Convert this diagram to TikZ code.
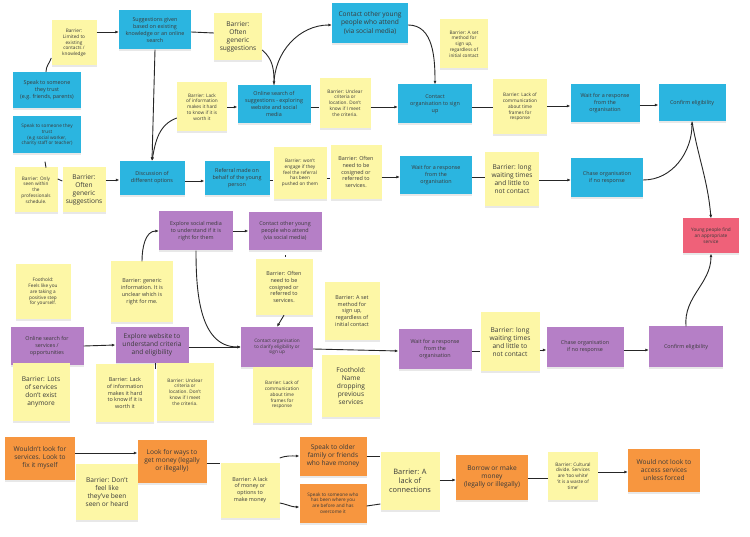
\documentclass[tikz,border=0pt]{standalone}
\usepackage{fontspec}
\setmainfont{Open Sans}
\usetikzlibrary{arrows.meta,shadows}
\definecolor{cblue}{HTML}{2BB5E0}
\definecolor{cyel}{HTML}{FDF7A6}
\definecolor{cpur}{HTML}{B57FC6}
\definecolor{cora}{HTML}{F7963F}
\definecolor{cred}{HTML}{EF6179}
\definecolor{ctxt}{HTML}{3A3A3A}
\newcommand{\fa}{\fontsize{4.7}{5.8}\selectfont}
\newcommand{\fb}{\fontsize{5.4}{6.9}\selectfont}
\newcommand{\fc}{\fontsize{6.6}{8.2}\selectfont}
\newcommand{\fd}{\fontsize{7.4}{9.2}\selectfont}
\tikzset{
 note/.style={rectangle,inner sep=1pt,align=center,text=ctxt,
   drop shadow={opacity=0.18,shadow xshift=0pt,shadow yshift=-2pt}},
 wh/.style 2 args={minimum width=#1pt,minimum height=#2pt},
 blue/.style={note,fill=cblue},
 yel/.style={note,fill=cyel},
 pur/.style={note,fill=cpur},
 ora/.style={note,fill=cora},
 red/.style={note,fill=cred},
 ar/.style={-{Latex[length=3.5pt,width=3pt]},line width=0.9pt,black!85},
 ln/.style={line width=0.9pt,black!85},
}
\begin{document}
\begin{tikzpicture}[x=1pt,y=-1pt]
\useasboundingbox[fill=white] (0,0) rectangle (750,537);
% ---- top blue section
\node[blue,wh={72}{39},font=\fb] (sug) at (155,30) {Suggestions given\\based on existing\\knowledge or an online\\search};
\node[yel,wh={45}{45},font=\fa] (lim) at (74,43) {Barrier:\\Limited to\\existing\\contacts /\\knowledge};
\node[blue,wh={68}{36},font=\fb] (sp1) at (47,90) {Speak to someone\\they trust\\(e.g. friends, parents)};
\node[blue,wh={68}{37},font=\fa] (sp2) at (47,135) {Speak to someone they\\trust\\(e.g social worker,\\charity staff or teacher)};
\node[yel,wh={43}{45},font=\fa] (onl) at (36,190) {Barrier: Only\\seen within\\the\\professionals\\schedule.};
\node[yel,wh={43}{45},font=\fc] (gen2) at (84,190) {Barrier:\\Often\\generic\\suggestions};
\node[blue,wh={65}{34},font=\fb] (dis) at (152,178) {Discussion of\\different options};
\node[yel,wh={48}{47},font=\fc] (gen1) at (238,37) {Barrier:\\Often\\generic\\suggestions};
\node[yel,wh={50}{49},font=\fa] (lack1) at (202,107) {Barrier: Lack\\of information\\makes it hard\\to know if it is\\worth it};
\node[blue,wh={73}{38},font=\fb] (os) at (274,104) {Online search of\\suggestions - exploring\\website and social\\media};
\node[yel,wh={51}{50},font=\fa] (unc1) at (345,103) {Barrier: Unclear\\criteria or\\location. Don't\\know if I meet\\the criteria.};
\node[blue,wh={65}{34},font=\fb] (ref) at (237,178) {Referral made on\\behalf of the young\\person};
\node[yel,wh={53}{52},font=\fa] (eng) at (300,173) {Barrier: won't\\engage if they\\feel the referral\\has been\\pushed on them};
\node[yel,wh={51}{54},font=\fb] (cos1) at (356,172) {Barrier: Often\\need to be\\cosigned or\\referred to\\services.};
\node[blue,wh={76}{40},font=\fc] (cyp1) at (370,23) {Contact other young\\people who attend\\(via social media)};
\node[yel,wh={48}{49},font=\fa] (set1) at (464,44) {Barrier: A set\\method for\\sign up,\\regardless of\\initial contact};
\node[blue,wh={74}{39},font=\fb] (co1) at (435,104) {Contact\\organisation to sign\\up};
\node[yel,wh={54}{55},font=\fa] (com1) at (520,107) {Barrier: Lack of\\communication\\about time\\frames for\\response};
\node[blue,wh={69}{38},font=\fb] (w1) at (605,103) {Wait for a response\\from the\\organisation};
\node[blue,wh={67}{37},font=\fb] (ce1) at (692,103) {Confirm eligibility};
\node[blue,wh={72}{38},font=\fb] (w2) at (436,175) {Wait for a response\\from the\\organisation};
\node[yel,wh={54}{54},font=\fc] (lw1) at (512,179) {Barrier: long\\waiting times\\and little to\\not contact};
\node[blue,wh={72}{39},font=\fb] (ch1) at (607,178) {Chase organisation\\if no response};
\node[red,wh={56}{35},font=\fa] (yp) at (711,236) {Young people find\\an appropriate\\service};
% ---- purple section
\node[pur,wh={74}{39},font=\fb] (esm) at (196,231) {Explore social media\\to understand if it is\\right for them};
\node[pur,wh={73}{38},font=\fb] (cyp2) at (285,231) {Contact other young\\people who attend\\(via social media)};
\node[yel,wh={55}{55},font=\fa] (foot1) at (43,292) {Foothold:\\Feels like you\\are taking a\\positive step\\for yourself.};
\node[yel,wh={62}{61},font=\fb] (gi) at (142,292) {Barrier: generic\\information. It is\\unclear which is\\right for me.};
\node[yel,wh={57}{56},font=\fb] (cos2) at (284,287) {Barrier: Often\\need to be\\cosigned or\\referred to\\services.};
\node[yel,wh={55}{58},font=\fb] (set2) at (352,311) {Barrier: A set\\method for\\sign up,\\regardless of\\initial contact};
\node[pur,wh={73}{38},font=\fb] (os2) at (47,346) {Online search for\\services /\\opportunities};
\node[pur,wh={73}{36},font=\fc] (ew) at (152,345) {Explore website to\\understand criteria\\and eligibility};
\node[pur,wh={72}{40},font=\fa] (co2) at (277,347) {Contact organisation\\to clarify eligibility or\\sign up};
\node[yel,wh={57}{58},font=\fc] (lots) at (41,392) {Barrier: Lots\\of services\\don't exist\\anymore};
\node[yel,wh={58}{58},font=\fb] (lack2) at (125,393) {Barrier: Lack\\of information\\makes it hard\\to know if it is\\worth it};
\node[yel,wh={57}{57},font=\fa] (unc2) at (185,392) {Barrier: Unclear\\criteria or\\location. Don't\\know if I meet\\the criteria.};
\node[yel,wh={59}{56},font=\fa] (com2) at (282,395) {Barrier: Lack of\\communication\\about time\\frames for\\response};
\node[yel,wh={58}{62},font=\fc] (foot2) at (351,386) {Foothold:\\Name\\dropping\\previous\\services};
\node[pur,wh={73}{40},font=\fb] (w3) at (435,349) {Wait for a response\\from the\\organisation};
\node[yel,wh={59}{59},font=\fc] (lw2) at (510,342) {Barrier: long\\waiting times\\and little to\\not contact};
\node[pur,wh={77}{40},font=\fb] (ch2) at (585,347) {Chase organisation\\if no response};
\node[pur,wh={74}{41},font=\fb] (ce2) at (686,347) {Confirm eligibility};
% ---- orange section
\node[ora,wh={70}{43},font=\fc] (wl) at (40,458) {Wouldn't look for\\services. Look to\\fix it myself};
\node[yel,wh={62}{56},font=\fc] (df) at (107,492) {Barrier: Don't\\feel like\\they've been\\seen or heard};
\node[ora,wh={69}{43},font=\fc] (lf) at (172,461) {Look for ways to\\get money (legally\\or illegally)};
\node[yel,wh={59}{55},font=\fb] (lm) at (250,490) {Barrier: A lack\\of money or\\options to\\make money};
\node[ora,wh={67}{39},font=\fc] (so) at (333,456) {Speak to older\\family or friends\\who have money};
\node[ora,wh={67}{39},font=\fa] (ss) at (333,503) {Speak to someone who\\has been where you\\are before and has\\overcome it};
\node[yel,wh={59}{58},font=\fd] (lc) at (410,481) {Barrier: A\\lack of\\connections};
\node[ora,wh={72}{45},font=\fc] (bm) at (492,477) {Borrow or make\\money\\(legally or illegally)};
\node[yel,wh={50}{48},font=\fa] (cd) at (573,476) {Barrier: Cultural\\divide. Services\\are `too white'\\`it is a waste of\\time'};
\node[ora,wh={72}{43},font=\fc] (wn) at (664,470) {Would not look to\\access services\\unless forced};
% ---- connectors top
\draw[ln] (sp1.north) ++(-1,0) to[out=90,in=-110] (lim.west|-0,58);
\draw[ar] (lim.east|-0,32) -- (sug.west|-0,32);
\draw[ln] (sug.east|-0,32) -- (gen1.west|-0,33);
\draw[ar] (gen1.east|-0,50) to[out=-40,in=90] (os.north);
\draw[ar] (os.north) to[out=90,in=180] (cyp1.west|-0,25);
\draw[ar] (sug.south) -- (dis.north);
\draw[ar] (lack1.west|-0,118) to[out=200,in=80] (dis.north);
\draw[ar] (lack1.east|-0,107) -- (os.west|-0,107);
\draw[ln] (os.east|-0,107) -- (unc1.west|-0,107);
\draw[ar] (unc1.east|-0,107) -- (co1.west|-0,107);
\draw[ar] (cyp1.east|-0,25) to[out=0,in=90] (co1.north);
\draw[ln] (co1.east|-0,107) -- (com1.west|-0,107);
\draw[ar] (com1.east|-0,106) -- (w1.west|-0,106);
\draw[ar] (w1.east|-0,105) -- (ce1.west|-0,105);
\draw[ln] (sp2.south) ++(-2,8) -- ++(1,6);
\draw[ln] (onl.east|-0,179) -- (gen2.west|-0,181);
\draw[ar] (gen2.east|-0,180) -- (dis.west|-0,180);
\draw[ar] (dis.east|-0,181) -- (ref.west|-0,181);
\draw[ln] (ref.east|-0,180) -- (eng.west|-0,180);
\draw[ln] (eng.east|-0,178) -- (cos1.west|-0,178);
\draw[ar] (cos1.east|-0,177) -- (w2.west|-0,177);
\draw[ln] (w2.east|-0,177) -- (lw1.west|-0,177);
\draw[ar] (lw1.east|-0,180) -- (ch1.west|-0,180);
\draw[ar] (ch1.east|-0,180) to[out=0,in=-90] (ce1.south);
\draw[ar] (ce1.south) to[out=-80,in=95] (yp.north);
% ---- connectors purple
\draw[ar] (gi.north) to[out=90,in=180] (esm.west);
\draw[ar] (esm.east) -- (cyp2.west);
\draw[ar] (esm.south) to[out=-90,in=180] (co2.west);
\draw[ln] (cyp2.south) ++(0,5) -- ++(0,2);
\draw[ar] (cos2.south) -- (co2.north);
\draw[ar] (os2.east) -- (ew.west);
\draw[ar] (ew.east|-0,347) -- (co2.west|-0,347);
\draw[ln] (ew.south) ++(3,0) -- ++(0,6);
\draw[ar] (co2.east|-0,349) -- (w3.west|-0,351);
\draw[ln] (w3.east|-0,351) -- (lw2.west|-0,351);
\draw[ar] (lw2.east|-0,350) -- (ch2.west|-0,350);
\draw[ar] (ch2.east|-0,350) -- (ce2.west|-0,350);
\draw[ar] (ce2.north) to[out=95,in=-90] (yp.south);
% ---- connectors orange
\draw[ar] (wl.east|-0,453) -- (lf.west|-0,453);
\draw[ln] (lf.east|-0,463) -- (lm.west|-0,463);
\draw[ar] (lm.east|-0,478) ++(0,-20) to[out=20,in=180] (so.west|-0,456);
\draw[ar] (lm.east|-0,478) ++(0,25) to[out=-10,in=180] (ss.west|-0,507);
\draw[ln] (so.east|-0,456) -- (lc.west|-0,456);
\draw[ln] (ss.east|-0,506) -- (lc.west|-0,504);
\draw[ar] (lc.east|-0,480) -- (bm.west|-0,480);
\draw[ln] (bm.east|-0,478) -- (cd.west|-0,478);
\draw[ar] (cd.east|-0,472) -- (wn.west|-0,472);
\end{tikzpicture}
\end{document}
